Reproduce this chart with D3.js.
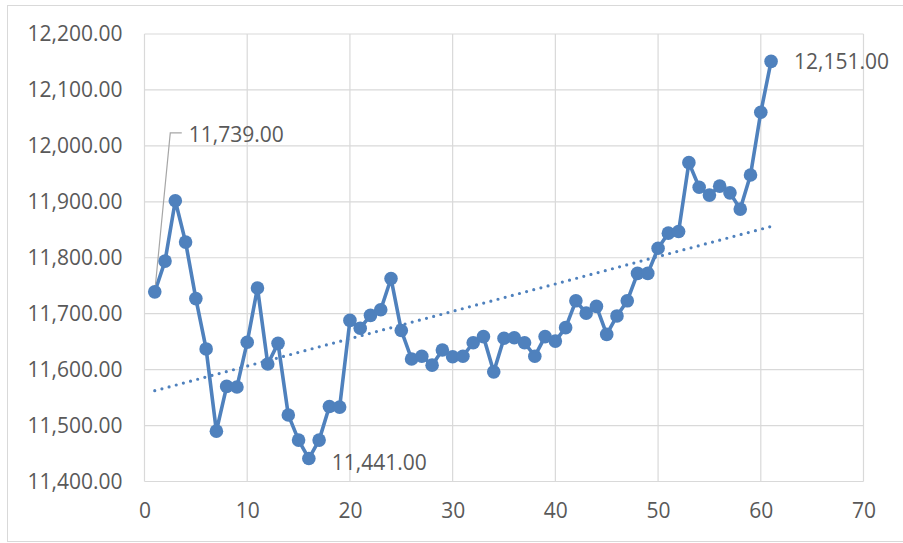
<!DOCTYPE html>
<html>
<head>
<meta charset="utf-8">
<script src="https://cdn.jsdelivr.net/npm/d3@7"></script>
<style>
  html, body { margin: 0; padding: 0; background: #fff; }
  svg { display: block; }
  text { font-family: "Open Sans", "Liberation Sans", sans-serif; fill: #595959; }
</style>
</head>
<body>
<div id="chart"></div>
<script>
// ---- data ----
const xValues = d3.range(1, 62);
const yValues = [
  11739, 11794, 11902, 11828, 11727, 11637, 11490, 11570, 11569, 11649,
  11746, 11610, 11647, 11519, 11474, 11441, 11474, 11534, 11533, 11688,
  11674, 11697, 11707, 11763, 11670, 11619, 11624, 11608, 11635, 11623,
  11624, 11648, 11659, 11596, 11656, 11657, 11648, 11624, 11659, 11651,
  11675, 11723, 11701, 11713, 11663, 11696, 11723, 11772, 11772, 11817,
  11844, 11847, 11970, 11926, 11912, 11928, 11916, 11887, 11948, 12060,
  12151
];
const xTicks = [0, 10, 20, 30, 40, 50, 60, 70];
const yTicks = [11400, 11500, 11600, 11700, 11800, 11900, 12000, 12100, 12200];
const labeledIdx = [0, 15, 60]; // points with data labels

// ---- layout ----
const W = 903, H = 543;
const margin = { left: 144.5, right: W - 863.5, top: 34, bottom: H - 481.5 };
const blue = "#4F81BD";

const svg = d3.select("#chart").append("svg").attr("width", W).attr("height", H);

// outer chart border
svg.append("rect").attr("x", 7.5).attr("y", 5.5).attr("width", W + 10).attr("height", 536)
  .attr("fill", "none").attr("stroke", "#d9d9d9").attr("stroke-width", 1);

const x = d3.scaleLinear().domain([0, 70]).range([margin.left, W - margin.right]);
const y = d3.scaleLinear().domain([11400, 12200]).range([H - margin.bottom, margin.top]);

// gridlines
const g = svg.append("g");
g.selectAll("line.h").data(yTicks).join("line")
  .attr("x1", x(0)).attr("x2", x(70)).attr("y1", d => y(d)).attr("y2", d => y(d))
  .attr("stroke", "#d9d9d9").attr("stroke-width", 1.2);
g.selectAll("line.v").data(xTicks).join("line")
  .attr("y1", y(11400)).attr("y2", y(12200)).attr("x1", d => x(d)).attr("x2", d => x(d))
  .attr("stroke", "#d9d9d9").attr("stroke-width", 1.2);

// axes (labels only)
const fmt = d3.format(",.2f");
const yAxis = d3.axisLeft(y).tickValues(yTicks).tickFormat(fmt).tickSize(0).tickPadding(22);
const yg = svg.append("g").attr("transform", `translate(${x(0)},0)`).call(yAxis);
yg.select(".domain").remove();
yg.selectAll("text").style("font-size", "21px").attr("fill", "#595959")
  .style("font-family", "'Open Sans', sans-serif");

const xAxis = d3.axisBottom(x).tickValues(xTicks).tickFormat(d3.format("d")).tickSize(0).tickPadding(22);
const xg = svg.append("g").attr("transform", `translate(0,${y(11400)})`).call(xAxis);
xg.select(".domain").remove();
xg.selectAll("text").style("font-size", "21px").attr("fill", "#595959")
  .style("font-family", "'Open Sans', sans-serif");

// linear trendline (least squares)
const n = xValues.length;
const mx = d3.mean(xValues), my = d3.mean(yValues);
let sxy = 0, sxx = 0;
for (let i = 0; i < n; i++) { sxy += (xValues[i] - mx) * (yValues[i] - my); sxx += (xValues[i] - mx) ** 2; }
const slope = sxy / sxx, intercept = my - slope * mx;
const x0 = xValues[0], x1 = xValues[n - 1];
svg.append("line")
  .attr("x1", x(x0)).attr("y1", y(intercept + slope * x0))
  .attr("x2", x(x1)).attr("y2", y(intercept + slope * x1))
  .attr("stroke", blue).attr("stroke-width", 3.2)
  .attr("stroke-linecap", "round").attr("stroke-dasharray", "0 7.4");

// series line
const pts = xValues.map((d, i) => [d, yValues[i]]);
svg.append("path").datum(pts)
  .attr("d", d3.line().x(d => x(d[0])).y(d => y(d[1])))
  .attr("fill", "none").attr("stroke", blue).attr("stroke-width", 3.6).attr("stroke-linejoin", "round");

// leader line for first label
const p0 = pts[0];
svg.append("polyline")
  .attr("points", `${x(p0[0])},${y(p0[1])} ${x(p0[0]) + 15.5},${y(p0[1]) - 159} ${x(p0[0]) + 27},${y(p0[1]) - 159}`)
  .attr("fill", "none").attr("stroke", "#a6a6a6").attr("stroke-width", 1.2);

// markers
svg.selectAll("circle.pt").data(pts).join("circle")
  .attr("cx", d => x(d[0])).attr("cy", d => y(d[1])).attr("r", 6.8).attr("fill", blue);

// data labels
const labelOffsets = { 0: [34, -158], 15: [23, 3], 60: [23, 0] };
svg.selectAll("text.dl").data(labeledIdx).join("text")
  .attr("class", "dl")
  .attr("x", i => x(pts[i][0]) + labelOffsets[i][0])
  .attr("y", i => y(pts[i][1]) + labelOffsets[i][1])
  .attr("dominant-baseline", "central")
  .style("font-size", "21px")
  .text(i => fmt(pts[i][1]));
</script>
</body>
</html>
